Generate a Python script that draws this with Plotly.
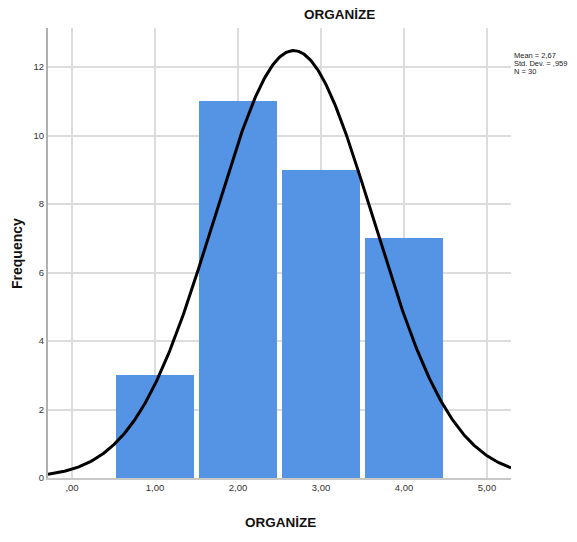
import numpy as np
import plotly.graph_objects as go

# Data
categories = [1.0, 2.0, 3.0, 4.0]
frequencies = [3, 11, 9, 7]
mean_val = 2.67
std_val = 0.959
n_val = 30
x_tick_vals = [0, 1, 2, 3, 4, 5]
x_tick_text = [",00", "1,00", "2,00", "3,00", "4,00", "5,00"]
y_tick_vals = [0, 2, 4, 6, 8, 10, 12]
stats_lines = ["Mean = 2,67", "Std. Dev. = ,959", "N = 30"]

FONT = "Liberation Sans Narrow, Arial Narrow, Liberation Sans, Arial, sans-serif"

xr = [-0.29, 5.29]
xs = np.linspace(xr[0], xr[1], 400)
bin_w = 1.0
ys = n_val * bin_w / (std_val * np.sqrt(2 * np.pi)) * np.exp(-0.5 * ((xs - mean_val) / std_val) ** 2)

W, H = 577, 542
ML, MR, MT, MB = 48, 66, 28, 64
PW, PH = W - ML - MR, H - MT - MB

fig = go.Figure()
fig.add_trace(go.Bar(
    x=categories, y=frequencies, width=0.94,
    marker=dict(color="#5594E4", line=dict(width=0)),
    showlegend=False, hoverinfo="x+y",
))
fig.add_trace(go.Scatter(
    x=xs, y=ys, mode="lines",
    line=dict(color="black", width=3),
    showlegend=False, hoverinfo="skip",
))

fig.update_layout(
    width=W, height=H,
    margin=dict(l=ML, r=MR, t=MT, b=MB, autoexpand=False),
    paper_bgcolor="white", plot_bgcolor="white",
    font=dict(family=FONT, color="#333333", size=10),
    bargap=0,
)
fig.update_xaxes(
    range=xr, tickvals=x_tick_vals, ticktext=x_tick_text,
    showgrid=True, gridcolor="#dcdcdc", gridwidth=1.5,
    showline=True, linecolor="#c8c8c8", linewidth=2,
    zeroline=False, ticks="", tickfont=dict(size=9.5, color="#333333"),
    automargin=False,
)
fig.update_yaxes(
    range=[0, 13.14], tickvals=y_tick_vals,
    showgrid=True, gridcolor="#dcdcdc", gridwidth=1.5,
    showline=True, linecolor="#b0b0b0", linewidth=2,
    zeroline=False, ticks="", tickfont=dict(size=9.5, color="#333333"),
    automargin=False,
)


def px_x(px):
    return (px - ML) / PW


def px_y(py):
    return 1 - (py - MT) / PH


# Title
fig.add_annotation(text="<b>ORGANİZE</b>", xref="paper", yref="paper",
                   x=px_x(339), y=px_y(14), xanchor="center", yanchor="middle",
                   showarrow=False, font=dict(family=FONT, size=13.5, color="#111111"))
# X axis title
fig.add_annotation(text="<b>ORGANİZE</b>", xref="paper", yref="paper",
                   x=px_x(280), y=px_y(522), xanchor="center", yanchor="middle",
                   showarrow=False, font=dict(family=FONT, size=13.5, color="#111111"))
# Y axis title
fig.add_annotation(text="<b>Frequency</b>", xref="paper", yref="paper",
                   x=px_x(17), y=px_y(253), xanchor="center", yanchor="middle",
                   textangle=-90, showarrow=False,
                   font=dict(family="Liberation Sans, Arial, sans-serif", size=14, color="#111111"))

for i, line in enumerate(stats_lines):
    fig.add_annotation(
        text=line, xref="paper", yref="paper",
        x=px_x(512), xanchor="left",
        y=px_y(56 + 8 * i), yanchor="middle",
        showarrow=False, font=dict(family=FONT, size=7.5, color="#222222"),
    )

fig.write_html("out.html")
